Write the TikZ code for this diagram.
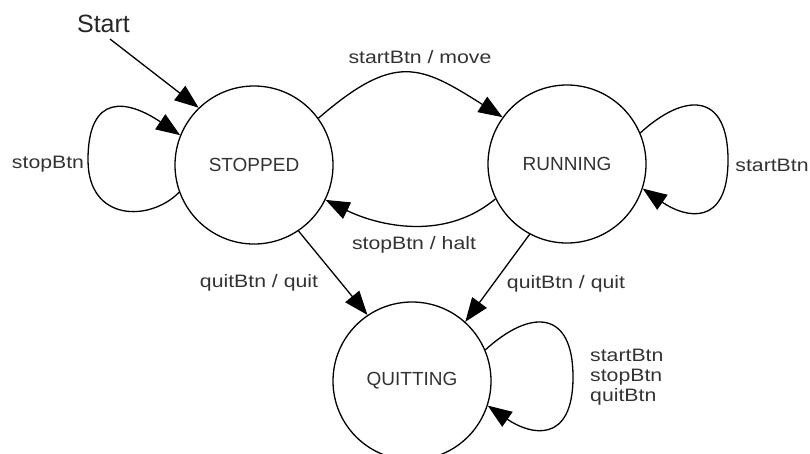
\documentclass[tikz,border=0pt]{standalone}
\usepackage{fontspec}
\setmainfont{Liberation Sans}
\newfontfamily\lblfont{Liberation Sans}[FakeStretch=1.18]
\usetikzlibrary{arrows.meta}
\begin{document}
\begin{tikzpicture}[x=1pt,y=-1pt,
  state/.style={draw=black, line width=1.3pt, circle, minimum size=158pt, inner sep=0pt,
                font=\fontsize{19}{22}\selectfont, text=black!80},
  edge/.style={draw=black, line width=1.3pt, -{Triangle[length=24pt,width=18pt]}},
  lbl/.style={font=\lblfont\fontsize{18}{20}\selectfont, text=black!80, anchor=base, inner sep=0pt},
  startlbl/.style={font=\fontsize{25}{28}\selectfont, text=black!85, anchor=base, inner sep=0pt}]
\useasboundingbox (0,0) rectangle (810,453);
\fill[white] (0,0) rectangle (810,453);

% states
\node[state] (S) at (254,165) {STOPPED};
\node[state] (R) at (567,164) {RUNNING};
\node[state] (Q) at (412,381) {QUITTING};

% start
\node[startlbl] (start) at (103.5,32) {Start};
\coordinate (startpt) at (110,39);
\draw[edge] (startpt) -- (S.134.5);

% STOPPED self loop
\draw[edge] (S.200) .. controls (150,222) and (88,222) .. (88,160)
                    .. controls (88,92) and (128,100) .. (S.158);
\node[lbl] (l1) at (48,168) {stopBtn};

% STOPPED -> RUNNING
\draw[edge] (S.36) .. controls (395,52) and (420,65) .. (R.144.7);
\node[lbl] (l2) at (420,63) {startBtn / move};

% RUNNING -> STOPPED
\draw[edge] (R.206.6) .. controls (440,245) and (370,222) .. (S.334);
\node[lbl] (l3) at (414,249) {stopBtn / halt};

% RUNNING self loop
\draw[edge] (R.23) .. controls (685,92) and (728,92) .. (728,160)
                   .. controls (728,228) and (685,218) .. (R.342);
\node[lbl] (l4) at (772,171) {startBtn};

% STOPPED -> QUITTING
\draw[edge] (S.304.5) -- (Q.124.6);
\node[lbl] (l5) at (259,287) {quitBtn / quit};

% RUNNING -> QUITTING
\draw[edge] (R.242) -- (Q.48);
\node[lbl] (l6) at (566,288) {quitBtn / quit};

% QUITTING self loop
\draw[edge] (Q.23) .. controls (530,309) and (573,309) .. (573,377)
                   .. controls (573,445) and (530,435) .. (Q.342);
\node[lbl, anchor=base west] (l7) at (590,361) {startBtn};
\node[lbl, anchor=base west] (l8) at (590,381) {stopBtn};
\node[lbl, anchor=base west] (l9) at (590,401) {quitBtn};
\end{tikzpicture}
\end{document}
